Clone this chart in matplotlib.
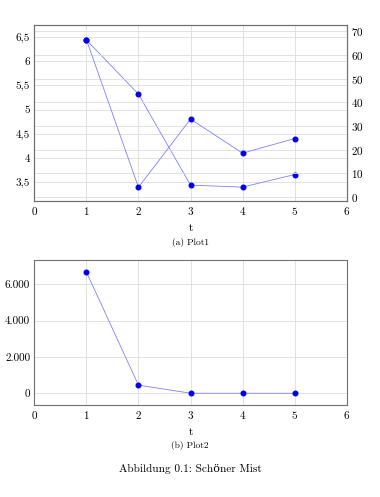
import matplotlib.pyplot as plt
from matplotlib.ticker import FuncFormatter

plt.rcParams['font.family'] = ['cmr10', 'DejaVu Serif']
plt.rcParams['axes.formatter.use_mathtext'] = True

t = [1, 2, 3, 4, 5]
left_vals = [6.44, 5.32, 3.44, 3.40, 3.66]
right_vals = [66.5, 4.1, 32.9, 18.5, 24.7]
plot2_vals = [6676, 450, 5, 3, 2]

left_ticks = [3.5, 4, 4.5, 5, 5.5, 6, 6.5]
right_ticks = [0, 10, 20, 30, 40, 50, 60, 70]
p2_ticks = [0, 2000, 4000, 6000]
x_ticks = [0, 1, 2, 3, 4, 5, 6]

line_c = '#8080ff'
mark_c = '#0000ee'
grid_c = '#dddddd'
spine_c = '#707070'
fs = 8


def de_fmt(v, pos):
    if abs(v - round(v)) < 1e-9:
        s = '{:,}'.format(int(round(v))).replace(',', '.')
    else:
        s = ('%g' % v).replace('.', ',')
    return s


def style(ax):
    for s in ax.spines.values():
        s.set_color(spine_c)
        s.set_linewidth(0.8)
    ax.tick_params(direction='in', length=0, labelsize=fs, colors='black', pad=3)
    ax.set_axisbelow(True)


fig = plt.figure(figsize=(3.8, 4.97), dpi=100)

# Plot 1 (two y axes)
ax1 = fig.add_axes([0.0903, 0.595, 0.8221, 0.3547])
ax1.set_xlim(0, 6)
ax1.set_ylim(3.107, 6.748)
ax1.set_xticks(x_ticks)
ax1.set_yticks(left_ticks)
ax1.yaxis.set_major_formatter(FuncFormatter(de_fmt))
style(ax1)
ax1.grid(color=grid_c, linewidth=0.6)
ax1.set_xlabel('t', fontsize=fs, labelpad=4)

ax1r = ax1.twinx()
ax1r.set_ylim(-1.82, 72.66)
ax1r.set_yticks(right_ticks)
style(ax1r)
ax1r.grid(axis='y', color=grid_c, linewidth=0.6)

ax1.plot(t, left_vals, color=line_c, lw=0.6, marker='o', ms=3.3,
         mfc=mark_c, mec=mark_c, zorder=3)
ax1r.plot(t, right_vals, color=line_c, lw=0.6, marker='o', ms=3.3,
          mfc=mark_c, mec=mark_c, zorder=3)

# Plot 2
ax2 = fig.add_axes([0.0903, 0.1845, 0.8221, 0.2924])
ax2.set_xlim(0, 6)
ax2.set_ylim(-660, 7337)
ax2.set_xticks(x_ticks)
ax2.set_yticks(p2_ticks)
ax2.yaxis.set_major_formatter(FuncFormatter(de_fmt))
style(ax2)
ax2.grid(color=grid_c, linewidth=0.6)
ax2.plot(t, plot2_vals, color=line_c, lw=0.6, marker='o', ms=3.3,
         mfc=mark_c, mec=mark_c, zorder=3)
ax2.set_xlabel('t', fontsize=fs, labelpad=4)

fig.text(0.5, 1 - 242 / 497, '(a) Plot1', ha='center', va='center', fontsize=6.8)
fig.text(0.5, 1 - 446 / 497, '(b) Plot2', ha='center', va='center', fontsize=6.8)
fig.text(0.5, 1 - 469 / 497, 'Abbildung 0.1: Schöner Mist', ha='center',
         va='center', fontsize=8.1)

fig.savefig('out.png', dpi=100)
